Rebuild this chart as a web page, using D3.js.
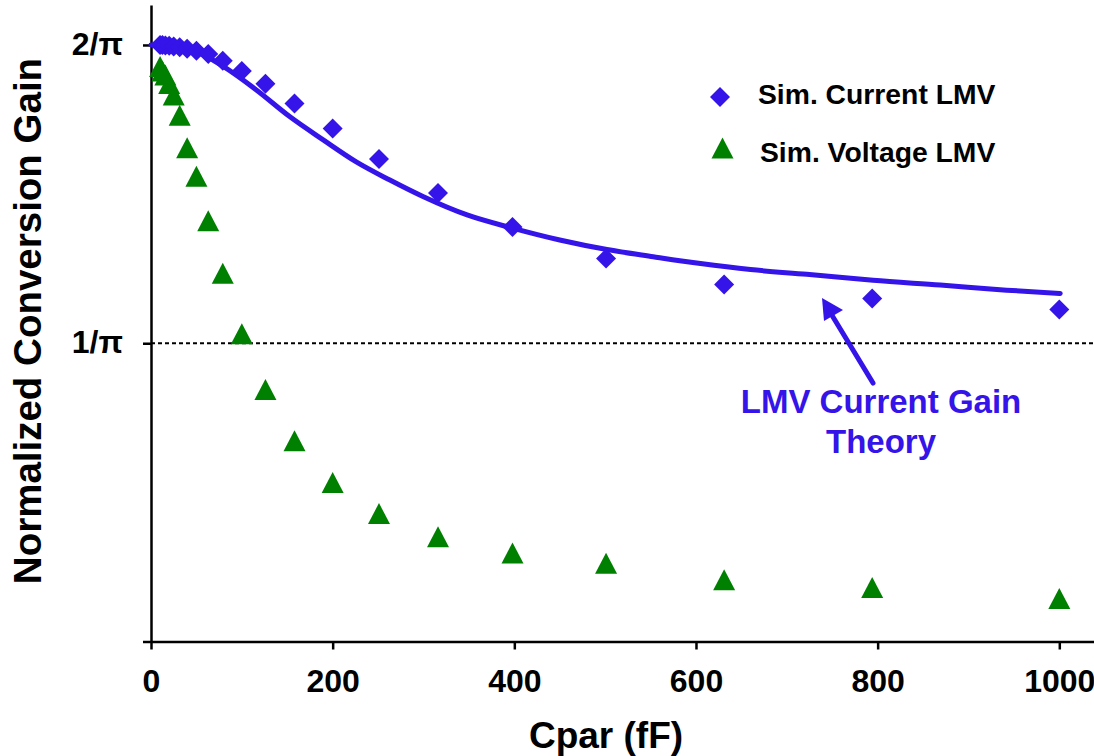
<!DOCTYPE html>
<html><head><meta charset="utf-8">
<script src="https://cdn.jsdelivr.net/npm/d3@7"></script>
<style>body{margin:0;background:#fff}svg{display:block}text{font-family:"Liberation Sans",Arial,sans-serif;font-weight:bold}</style>
</head><body><svg id="c" width="1094" height="756"></svg>
<script>
// Cpar (fF)
const cpar = [10,12.6,15.8,20,25,31.6,39.8,50,63,79,100,126,158,200,251,316,398,501,631,794,1000];
// gains in units of 1/pi
const currentLMV = [2.0,2.0,1.998,1.997,1.995,1.992,1.987,1.981,1.970,1.947,1.913,1.870,1.804,1.720,1.618,1.504,1.390,1.284,1.197,1.150,1.113];
const voltageLMV = [1.928,1.913,1.899,1.871,1.832,1.764,1.655,1.560,1.411,1.235,1.032,0.845,0.673,0.533,0.429,0.351,0.297,0.262,0.207,0.181,0.144];
const theoryC = [0,10,25,40,54,80,116,153,190,226,263,300,348,399,450,502,553,605,660,722,795,869,942,1001];
const theoryG = [2.0,1.998,1.992,1.984,1.972,1.927,1.849,1.759,1.681,1.608,1.547,1.491,1.430,1.385,1.346,1.314,1.290,1.267,1.247,1.231,1.211,1.195,1.178,1.167];
const xTicks = [0,200,400,600,800,1000];
const yTicks = [0,1,2];
const yTickLabels = ["", "1/\u03c0", "2/\u03c0"];
const seriesNames = ["Sim. Current LMV","Sim. Voltage LMV"];

const blue = "#3414e9", green = "#008000";
const svg = d3.select("#c");
const x = d3.scaleLinear().domain([0,1040]).range([151,151+1040*0.9083]);
const y = d3.scaleLinear().domain([0,2.134]).range([641.5,5]);

// dashed reference at 1/pi
svg.append("line").attr("x1",x(0)).attr("x2",1094).attr("y1",y(1)).attr("y2",y(1))
  .attr("stroke","#000").attr("stroke-width",2).attr("stroke-dasharray","4,3");

// axes
const gx = svg.append("g").attr("transform",`translate(0,${y(0)})`)
  .call(d3.axisBottom(x).tickValues(xTicks).tickSizeInner(8).tickSizeOuter(0).tickPadding(20).tickFormat(d3.format("d")));
const gy = svg.append("g").attr("transform",`translate(${x(0)},0)`)
  .call(d3.axisLeft(y).tickValues(yTicks).tickSizeInner(8).tickSizeOuter(0).tickPadding(20).tickFormat((d,i)=>yTickLabels[d]));
[gx,gy].forEach(g=>{
  g.select(".domain").attr("stroke","#000").attr("stroke-width",2.5);
  g.selectAll(".tick line").attr("stroke","#000").attr("stroke-width",2.5);
  g.selectAll(".tick text").attr("fill","#000").attr("font-size",32).attr("font-family","Liberation Sans, Arial, sans-serif").attr("font-weight","bold");
});
gy.selectAll(".tick text").attr("dy","0.3em");

// theory line
const line = d3.line().x((d,i)=>x(theoryC[i])).y(d=>y(d)).curve(d3.curveMonotoneX);
svg.append("path").attr("d",line(theoryG)).attr("fill","none").attr("stroke",blue)
  .attr("stroke-width",5).attr("stroke-linecap","round");

// markers
const diamond = (s)=>`M0,${-s}L${s},0L0,${s}L${-s},0Z`;
const tri = (w,h)=>`M0,${-h/2}L${w/2},${h/2}L${-w/2},${h/2}Z`;
svg.append("g").selectAll("path").data(voltageLMV).join("path")
  .attr("d",tri(22,21)).attr("fill",green)
  .attr("transform",(d,i)=>`translate(${x(cpar[i])},${y(d)})`);
svg.append("g").selectAll("path").data(currentLMV).join("path")
  .attr("d",diamond(10)).attr("fill",blue)
  .attr("transform",(d,i)=>`translate(${x(cpar[i])},${y(d)})`);

// legend
svg.append("path").attr("d",diamond(10)).attr("fill",blue).attr("transform","translate(720,97)");
svg.append("path").attr("d",tri(22,21)).attr("fill",green).attr("transform","translate(722.5,148)");
svg.append("text").attr("x",758).attr("y",104).attr("font-size",28.3).text(seriesNames[0]);
svg.append("text").attr("x",760).attr("y",162).attr("font-size",28.3).text(seriesNames[1]);

// annotation
svg.append("line").attr("x1",873).attr("y1",383).attr("x2",830).attr("y2",312)
  .attr("stroke",blue).attr("stroke-width",5).attr("stroke-linecap","round");
svg.append("path").attr("d","M822,298L843,310L824,321Z").attr("fill",blue);
svg.append("text").attr("x",881).attr("y",413).attr("text-anchor","middle").attr("font-size",33).attr("fill",blue).text("LMV Current Gain");
svg.append("text").attr("x",881).attr("y",453).attr("text-anchor","middle").attr("font-size",33).attr("fill",blue).text("Theory");

// axis titles
svg.append("text").attr("x",606).attr("y",748).attr("text-anchor","middle").attr("font-size",37).text("Cpar (fF)");
svg.append("text").attr("transform","translate(41,321) rotate(-90)").attr("text-anchor","middle").attr("font-size",38.5).text("Normalized Conversion Gain");
</script></body></html>
